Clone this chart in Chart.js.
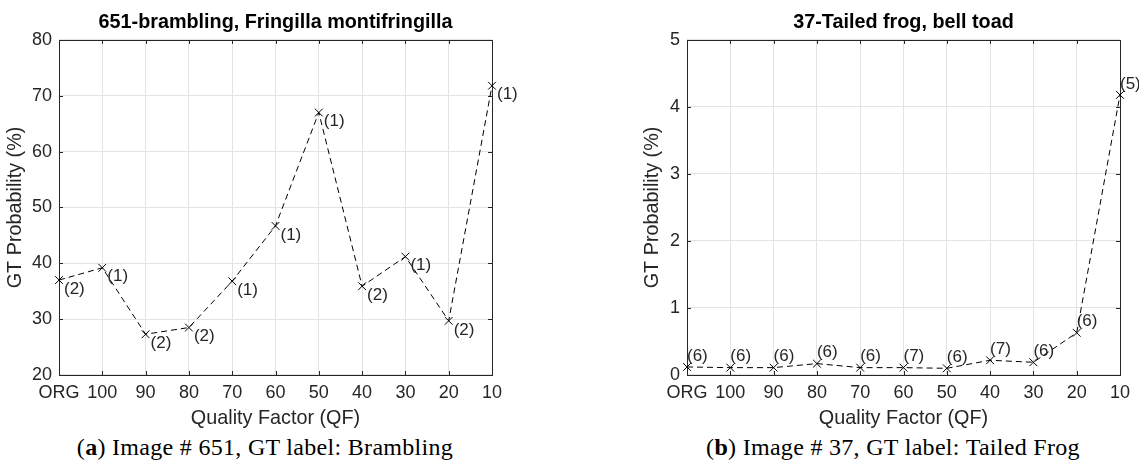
<!DOCTYPE html>
<html>
<head>
<meta charset="utf-8">
<style>
body{margin:0;background:#fff;width:1139px;height:467px;position:relative;overflow:hidden}
canvas{position:absolute;top:0}
.cap{position:absolute;top:433px;height:28px;line-height:28px;font-family:"Liberation Serif","DejaVu Serif",serif;font-size:24px;letter-spacing:0.3px;color:#000;text-align:center;white-space:nowrap}
</style>
</head>
<body>
<canvas id="chartA" width="570" height="430" style="left:0"></canvas>
<canvas id="chartB" width="569" height="430" style="left:570px"></canvas>
<div class="cap" style="left:15px;width:500px">(<b>a</b>) Image # 651, GT label: Brambling</div>
<div class="cap" style="left:643px;width:500px">(<b>b</b>) Image # 37, GT label: Tailed Frog</div>

<script src="https://cdn.jsdelivr.net/npm/chart.js"></script>
<script>
const qfLabels = ['ORG', '100', '90', '80', '70', '60', '50', '40', '30', '20', '10'];
const bramblingProb = [37.0, 39.2, 27.3, 28.5, 36.8, 46.7, 67.0, 35.9, 41.2, 29.7, 71.8];
const bramblingRank = [2, 1, 2, 2, 1, 1, 1, 2, 1, 2, 1];
const frogProb = [0.12, 0.11, 0.11, 0.17, 0.11, 0.11, 0.10, 0.22, 0.19, 0.63, 4.18];
const frogRank = [6, 6, 6, 6, 6, 7, 6, 7, 6, 6, 5];

const sans = '"Liberation Sans", Arial, sans-serif';
const ink = '#262626';

// "(n)" next to each marker
const rankLabels = {
    id: 'rankLabels',
    afterDatasetsDraw(chart, args, opts) {
        const ctx = chart.ctx;
        const pts = chart.getDatasetMeta(0).data;
        ctx.save();
        ctx.font = '17px ' + sans;
        ctx.fillStyle = ink;
        ctx.textAlign = 'left';
        ctx.textBaseline = 'middle';
        pts.forEach((p, i) => {
            ctx.fillText('(' + opts.ranks[i] + ')', p.x + opts.dx, p.y + opts.dy);
        });
        ctx.restore();
    }
};

// matlab style box with inward ticks, title centred on the axes
const matlabBox = {
    id: 'matlabBox',
    afterLayout(chart) {
        const t = chart.titleBlock;
        if (t) {
            t.left = chart.chartArea.left;
            t.right = chart.chartArea.right;
            t.width = t.right - t.left;
        }
    },
    beforeDatasetsDraw(chart) {
        const {ctx, chartArea: a, scales: {x, y}} = chart;
        ctx.save();
        ctx.strokeStyle = ink;
        ctx.lineWidth = 1;
        ctx.beginPath();
        x.ticks.forEach((t, i) => {
            const px = Math.round(x.getPixelForTick(i)) + 0.5;
            ctx.moveTo(px, a.top); ctx.lineTo(px, a.top + 4);
            ctx.moveTo(px, a.bottom); ctx.lineTo(px, a.bottom - 4);
        });
        y.ticks.forEach((t, i) => {
            const py = Math.round(y.getPixelForTick(i)) + 0.5;
            ctx.moveTo(a.left, py); ctx.lineTo(a.left + 4, py);
            ctx.moveTo(a.right, py); ctx.lineTo(a.right - 4, py);
        });
        ctx.stroke();
        ctx.strokeRect(Math.round(a.left) + 0.5, Math.round(a.top) + 0.5,
            Math.round(a.right - a.left), Math.round(a.bottom - a.top));
        ctx.restore();
    }
};

function makeChart(id, title, values, ranks, yMin, yMax, step, yWidth, padLeft, padRight, dx, dy) {
    return new Chart(document.getElementById(id), {
        type: 'line',
        data: {
            labels: qfLabels,
            datasets: [{
                data: values,
                borderColor: '#000',
                borderWidth: 1,
                borderDash: [6, 4],
                fill: false,
                tension: 0,
                clip: false,
                pointStyle: 'crossRot',
                pointRadius: 5.5,
                pointBorderWidth: 1,
                pointBorderColor: '#000',
                pointBackgroundColor: '#000'
            }]
        },
        options: {
            responsive: false,
            animation: false,
            events: [],
            layout: { padding: { left: padLeft, right: padRight, top: 0, bottom: 0 } },
            scales: {
                x: {
                    type: 'category',
                    offset: false,
                    grid: { color: '#e3e3e3', drawTicks: false },
                    border: { display: false },
                    ticks: { color: ink, font: { family: sans, size: 18 }, padding: 7, maxRotation: 0, autoSkip: false },
                    title: { display: true, text: 'Quality Factor (QF)', color: ink, font: { family: sans, size: 19.8 }, padding: { top: 0, bottom: 0 } },
                    afterFit: s => { s.height = 55; }
                },
                y: {
                    min: yMin,
                    max: yMax,
                    grid: { color: '#e3e3e3', drawTicks: false },
                    border: { display: false },
                    ticks: { stepSize: step, color: ink, font: { family: sans, size: 18 }, padding: 7 },
                    title: { display: true, text: 'GT Probability (%)', color: ink, font: { family: sans, size: 19.8 }, padding: { top: 2, bottom: 0 } },
                    afterFit: s => { s.width = yWidth; }
                }
            },
            plugins: {
                legend: { display: false },
                tooltip: { enabled: false },
                title: { display: true, text: title, color: '#000', font: { family: sans, size: 19.8, weight: 'bold' }, padding: { top: 11, bottom: 5.2 } },
                rankLabels: { ranks: ranks, dx: dx, dy: dy }
            }
        },
        plugins: [matlabBox, rankLabels]
    });
}

makeChart('chartA', '651-brambling, Fringilla montifringilla', bramblingProb, bramblingRank, 20, 80, 10, 57, 2, 78, 5, 9);
makeChart('chartB', '37-Tailed frog, bell toad', frogProb, frogRank, 0, 5, 1, 48, 69, 19, 0, -11);
</script>
</body>
</html>
